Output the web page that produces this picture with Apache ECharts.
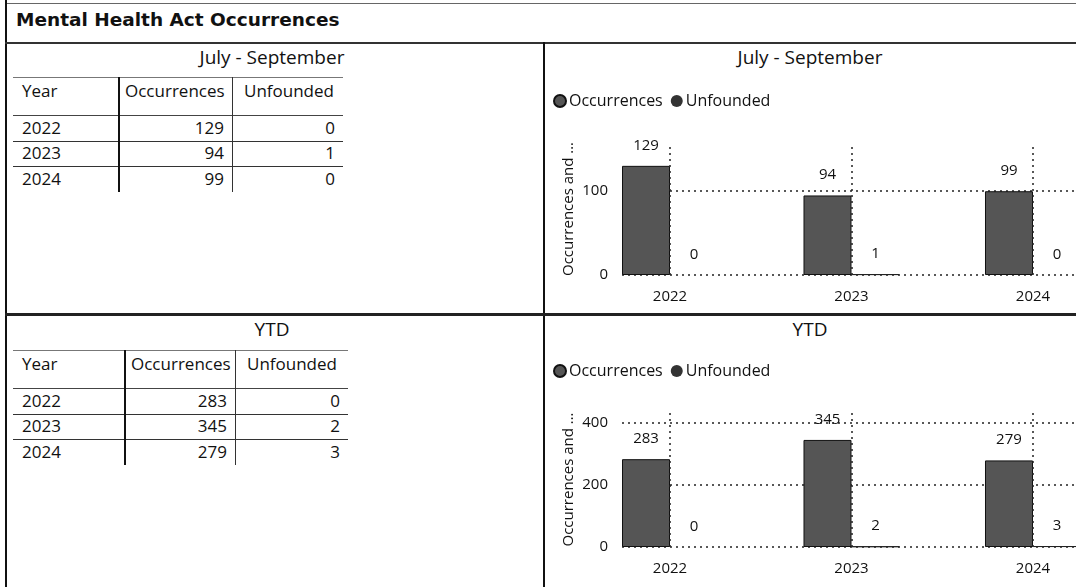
<!DOCTYPE html>
<html>
<head>
<meta charset="utf-8">
<script src="https://cdn.jsdelivr.net/npm/echarts@6/dist/echarts.min.js"></script>
<style>
  html, body { margin: 0; padding: 0; background: #fff; }
  body { width: 1076px; height: 587px; position: relative; overflow: hidden;
         font-family: 'Open Sans', sans-serif; color: #111; }
  .ln { position: absolute; background: #222; }
  .txt { position: absolute; white-space: nowrap; font-size: 17px; line-height: 20px; }
  .main-title { position: absolute; left: 16px; top: 9px; font: bold 18.5px 'DejaVu Sans', sans-serif; color: #111; }
  .pane-title { position: absolute; width: 400px; text-align: center; font-size: 19px; line-height: 24px; }
  #chart { position: absolute; left: 0; top: 0; width: 1076px; height: 587px; }
</style>
</head>
<body>
<div class="main-title">Mental Health Act Occurrences</div>
<div id="page"></div>
<div id="chart"></div>
<script>
// data
const years = ['2022', '2023', '2024'];
const qtrOccurrences = [129, 94, 99];
const qtrUnfounded = [0, 1, 0];
const ytdOccurrences = [283, 345, 279];
const ytdUnfounded = [0, 2, 3];
const headers = ['Year', 'Occurrences', 'Unfounded'];

const page = document.getElementById('page');

function line(x, y, w, h, color) {
  const d = document.createElement('div');
  d.className = 'ln';
  d.style.cssText = `left:${x}px;top:${y}px;width:${w}px;height:${h}px;` + (color ? `background:${color};` : '');
  page.appendChild(d);
}

function text(str, x, y, align) {
  const d = document.createElement('div');
  d.className = 'txt';
  d.textContent = str;
  if (align === 'right') {
    d.style.cssText = `left:${x - 200}px;top:${y}px;width:200px;text-align:right;`;
  } else {
    d.style.cssText = `left:${x}px;top:${y}px;`;
  }
  page.appendChild(d);
}

function paneTitle(str, cx, top) {
  const d = document.createElement('div');
  d.className = 'pane-title';
  d.textContent = str;
  d.style.left = (cx - 200) + 'px';
  d.style.top = top + 'px';
  page.appendChild(d);
}

// frame
line(5, 3, 1071, 1, '#666');
line(5, 0, 2, 587, '#111');
line(5, 42, 1071, 2, '#333');
line(543, 42, 2, 545, '#111');
line(5, 313, 1071, 3, '#222');

// tables
function drawTable(top, cols, occ, unf) {
  const headH = 38, rowH = 25.7;
  const width = cols[3] - cols[0];
  line(cols[0], top, width, 1, '#777');
  line(cols[0], top + headH, width, 1, '#444');
  for (let i = 1; i < years.length; i++) {
    line(cols[0], top + headH + i * rowH, width, 1, '#333');
  }
  const bottom = headH + years.length * rowH;
  line(cols[1], top, 2, bottom, '#111');
  line(cols[2], top, 1, bottom, '#333');

  text(headers[0], cols[0] + 9, top + 3.5);
  text(headers[1], cols[1] + 7, top + 3.5);
  text(headers[2], cols[2] + 12, top + 3.5);
  years.forEach((y, i) => {
    const ty = top + headH + i * rowH + 2.5;
    text(y, cols[0] + 9, ty);
    text(String(occ[i]), cols[2] - 8, ty, 'right');
    text(String(unf[i]), cols[3] - 8, ty, 'right');
  });
}

paneTitle('July - September', 272, 45);
paneTitle('July - September', 810, 45);
paneTitle('YTD', 272, 317);
paneTitle('YTD', 810, 317);

drawTable(77, [13, 118, 232, 343], qtrOccurrences, qtrUnfounded);
drawTable(350, [13, 124, 235, 348], ytdOccurrences, ytdUnfounded);

// charts
const chart = echarts.init(document.getElementById('chart'));
const font = 'Open Sans';
const ink = '#111';
const dotted = {type: [2, 4], color: '#222', width: 1.5};
const idx = years.map((_, i) => i);

function xAxis(gridIndex) {
  return {
    type: 'value',
    gridIndex: gridIndex,
    min: -0.2645,
    max: 2.237,
    axisLine: {show: false},
    axisTick: {show: false},
    splitLine: {show: false},
    axisLabel: {
      customValues: idx,
      formatter: v => years[v],
      margin: 14,
      fontSize: 15,
      fontFamily: font,
      color: ink,
    },
  };
}

function yAxis(gridIndex, max, interval) {
  return {
    type: 'value',
    gridIndex: gridIndex,
    min: 0,
    max: max,
    interval: interval,
    name: 'Occurrences and …',
    nameLocation: 'middle',
    nameGap: 46,
    nameTextStyle: {fontSize: 15, fontFamily: font, color: ink},
    axisLine: {show: false},
    axisTick: {show: false},
    axisLabel: {margin: 14, fontSize: 15, fontFamily: font, color: ink, showMaxLabel: false},
    splitLine: {show: true, showMaxLine: false, lineStyle: dotted},
  };
}

function barLabel() {
  return {
    show: true, position: 'top', distance: 13,
    fontSize: 15, fontFamily: font, color: ink,
    formatter: p => p.value[1],
  };
}

function occSeries(axisIndex, values) {
  return {
    name: 'Occurrences',
    type: 'bar',
    xAxisIndex: axisIndex,
    yAxisIndex: axisIndex,
    barWidth: 48,
    barGap: '0%',
    z: 3,
    data: values.map((v, i) => [i, v]),
    itemStyle: {color: '#555', borderColor: '#111', borderWidth: 1},
    label: barLabel(),
  };
}

function unfSeries(axisIndex, values) {
  return {
    name: 'Unfounded',
    type: 'bar',
    xAxisIndex: axisIndex,
    yAxisIndex: axisIndex,
    barWidth: 48,
    barGap: '0%',
    z: 3,
    data: values.map((v, i) => ({value: [i, v], itemStyle: {borderWidth: v ? 1 : 0}})),
    itemStyle: {color: '#333', borderColor: '#222'},
    label: barLabel(),
  };
}

// vertical dotted guides at each year, carried by an empty helper series
function guideSeries(axisIndex) {
  return {
    type: 'line',
    xAxisIndex: axisIndex,
    yAxisIndex: axisIndex,
    data: [],
    z: 1,
    markLine: {
      silent: true,
      symbol: ['none', 'none'],
      label: {show: false},
      lineStyle: dotted,
      data: idx.map(i => ({xAxis: i})),
    },
  };
}

const legendBase = {
  left: 553,
  icon: 'circle',
  itemWidth: 12,
  itemHeight: 12,
  itemGap: 8,
  padding: 0,
  textStyle: {fontSize: 16, fontFamily: font, color: ink, padding: [0, 0, 0, -2]},
  data: ['Occurrences', 'Unfounded'],
};

chart.setOption({
  animation: false,
  backgroundColor: 'transparent',
  legend: [
    Object.assign({top: 93}, legendBase),
    Object.assign({top: 363}, legendBase),
  ],
  grid: [
    {left: 622, right: 0, top: 143, height: 132},
    {left: 622, right: 0, top: 412, height: 135},
  ],
  xAxis: [xAxis(0), xAxis(1)],
  yAxis: [yAxis(0, 156, 100), yAxis(1, 435, 200)],
  series: [
    guideSeries(0),
    guideSeries(1),
    occSeries(0, qtrOccurrences),
    unfSeries(0, qtrUnfounded),
    occSeries(1, ytdOccurrences),
    unfSeries(1, ytdUnfounded),
  ],
});
</script>
</body>
</html>
